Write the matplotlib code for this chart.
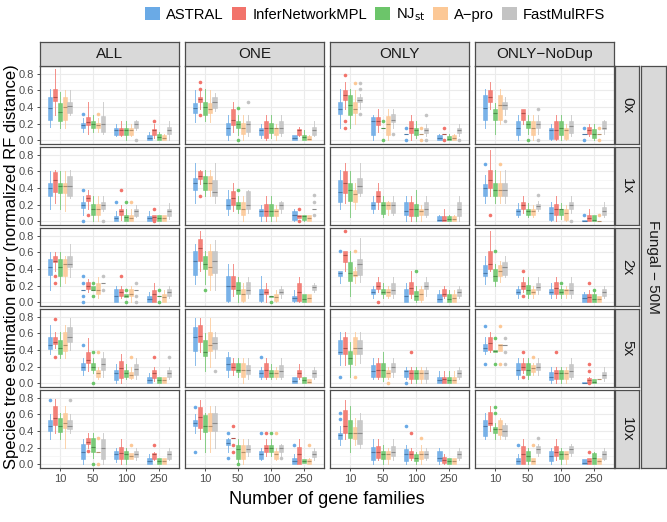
import numpy as np
import matplotlib
matplotlib.use("Agg")
import matplotlib.pyplot as plt
from matplotlib.patches import Patch
from matplotlib.colors import to_rgb

plt.rcParams["font.family"] = ["Liberation Sans", "DejaVu Sans"]

METHODS = ["ASTRAL", "InferNetworkMPL", "NJ$_{\\mathrm{st}}$", "A\u2212pro", "FastMulRFS"]
COLORS = ["#6AAAE6", "#F2736B", "#6CC56A", "#FCC896", "#C3C3C3"]
GENE_FAMILIES = ["10", "50", "100", "250"]
DATASETS = ["ALL", "ONE", "ONLY", "ONLY\u2212NoDup"]
COVERAGE = ["0x", "1x", "2x", "5x", "10x"]
SIMULATION = "Fungal \u2212 50M"

# box stats: [dataset][gene families][method] = (whisker lo, q1, median, q3, whisker hi)
BOX_0X = [
    [[(0.16, 0.24, 0.39, 0.52, 0.61), (0.30, 0.47, 0.52, 0.62, 0.86), (0.15, 0.23, 0.34, 0.45, 0.58), (0.15, 0.25, 0.40, 0.52, 0.60), (0.30, 0.33, 0.41, 0.46, 0.60)],
     [(0.10, 0.15, 0.19, 0.21, 0.27), (0.08, 0.18, 0.22, 0.28, 0.46), (0.10, 0.15, 0.20, 0.23, 0.30), (0.10, 0.15, 0.19, 0.21, 0.27), (0.08, 0.10, 0.20, 0.29, 0.46)],
     [(0.05, 0.07, 0.12, 0.15, 0.20), (0.05, 0.07, 0.12, 0.15, 0.23), (0.00, 0.07, 0.12, 0.15, 0.23), (0.05, 0.07, 0.12, 0.15, 0.20), (0.12, 0.15, 0.20, 0.23, 0.25)],
     [(0.00, 0.00, 0.03, 0.06, 0.10), (0.03, 0.07, 0.12, 0.14, 0.20), (0.00, 0.00, 0.04, 0.08, 0.10), (0.00, 0.00, 0.03, 0.06, 0.08), (0.00, 0.08, 0.12, 0.16, 0.23)]],
    [[(0.22, 0.33, 0.39, 0.45, 0.60), (0.38, 0.46, 0.49, 0.52, 0.60), (0.23, 0.30, 0.40, 0.46, 0.62), (0.22, 0.33, 0.38, 0.45, 0.60), (0.35, 0.39, 0.46, 0.52, 0.57)],
     [(0.00, 0.07, 0.15, 0.21, 0.30), (0.10, 0.18, 0.25, 0.37, 0.46), (0.07, 0.15, 0.20, 0.23, 0.30), (0.00, 0.08, 0.15, 0.21, 0.30), (0.05, 0.10, 0.20, 0.23, 0.30)],
     [(0.03, 0.07, 0.12, 0.15, 0.20), (0.00, 0.03, 0.15, 0.23, 0.30), (0.03, 0.09, 0.15, 0.21, 0.30), (0.00, 0.07, 0.15, 0.15, 0.20), (0.05, 0.09, 0.15, 0.23, 0.30)],
     [(0.00, 0.00, 0.03, 0.06, 0.07), (0.05, 0.07, 0.12, 0.14, 0.16), (0.00, 0.00, 0.04, 0.07, 0.12), (0.00, 0.00, 0.02, 0.05, 0.06), (0.05, 0.07, 0.12, 0.16, 0.23)]],
    [[(0.15, 0.32, 0.38, 0.46, 0.62), (0.38, 0.48, 0.54, 0.60, 0.70), (0.15, 0.30, 0.42, 0.54, 0.62), (0.20, 0.33, 0.38, 0.46, 0.60), (0.38, 0.46, 0.48, 0.52, 0.55)],
     [(0.00, 0.07, 0.23, 0.28, 0.30), (0.10, 0.18, 0.23, 0.28, 0.38), (0.15, 0.15, 0.15, 0.15, 0.15), (0.00, 0.07, 0.20, 0.29, 0.38), (0.15, 0.22, 0.25, 0.31, 0.38)],
     [(0.08, 0.08, 0.08, 0.08, 0.08), (0.00, 0.09, 0.15, 0.23, 0.30), (0.03, 0.07, 0.12, 0.15, 0.23), (0.08, 0.08, 0.08, 0.08, 0.08), (0.05, 0.09, 0.12, 0.15, 0.20)],
     [(0.00, 0.00, 0.03, 0.07, 0.08), (0.08, 0.08, 0.08, 0.08, 0.08), (0.00, 0.00, 0.02, 0.05, 0.08), (0.00, 0.00, 0.03, 0.07, 0.08), (0.05, 0.09, 0.12, 0.15, 0.20)]],
    [[(0.15, 0.25, 0.39, 0.54, 0.62), (0.38, 0.46, 0.52, 0.60, 0.70), (0.08, 0.25, 0.33, 0.38, 0.45), (0.20, 0.25, 0.42, 0.54, 0.62), (0.30, 0.38, 0.42, 0.46, 0.52)],
     [(0.00, 0.07, 0.15, 0.23, 0.30), (0.20, 0.25, 0.33, 0.38, 0.38), (0.08, 0.15, 0.20, 0.23, 0.30), (0.00, 0.07, 0.15, 0.23, 0.30), (0.08, 0.15, 0.20, 0.23, 0.30)],
     [(0.00, 0.02, 0.12, 0.15, 0.20), (0.00, 0.02, 0.12, 0.23, 0.30), (0.00, 0.07, 0.15, 0.23, 0.30), (0.00, 0.02, 0.12, 0.15, 0.20), (0.05, 0.09, 0.17, 0.23, 0.30)],
     [(0.08, 0.08, 0.08, 0.08, 0.08), (0.05, 0.08, 0.12, 0.16, 0.20), (0.00, 0.03, 0.08, 0.14, 0.20), (0.08, 0.08, 0.08, 0.08, 0.08), (0.08, 0.14, 0.15, 0.23, 0.25)]],
]
BOX_1X = [
    [[(0.15, 0.30, 0.40, 0.46, 0.60), (0.22, 0.35, 0.50, 0.59, 0.62), (0.15, 0.34, 0.42, 0.46, 0.60), (0.12, 0.34, 0.42, 0.46, 0.60), (0.28, 0.30, 0.42, 0.54, 0.62)],
     [(0.08, 0.16, 0.20, 0.23, 0.30), (0.15, 0.25, 0.28, 0.31, 0.38), (0.00, 0.08, 0.15, 0.21, 0.30), (0.00, 0.08, 0.15, 0.21, 0.30), (0.12, 0.15, 0.20, 0.23, 0.30)],
     [(0.00, 0.00, 0.04, 0.06, 0.12), (0.02, 0.08, 0.12, 0.15, 0.20), (0.00, 0.00, 0.05, 0.08, 0.15), (0.00, 0.00, 0.04, 0.08, 0.15), (0.05, 0.07, 0.12, 0.15, 0.20)],
     [(0.00, 0.00, 0.04, 0.06, 0.12), (0.02, 0.02, 0.05, 0.08, 0.08), (0.00, 0.00, 0.04, 0.08, 0.08), (0.00, 0.00, 0.04, 0.08, 0.08), (0.03, 0.07, 0.12, 0.15, 0.22)]],
    [[(0.22, 0.38, 0.46, 0.52, 0.70), (0.45, 0.51, 0.54, 0.60, 0.62), (0.30, 0.38, 0.46, 0.54, 0.62), (0.30, 0.38, 0.46, 0.54, 0.62), (0.22, 0.30, 0.35, 0.50, 0.70)],
     [(0.08, 0.15, 0.20, 0.27, 0.38), (0.12, 0.20, 0.28, 0.36, 0.46), (0.10, 0.15, 0.20, 0.23, 0.30), (0.00, 0.08, 0.15, 0.23, 0.30), (0.10, 0.15, 0.20, 0.36, 0.38)],
     [(0.00, 0.07, 0.12, 0.15, 0.20), (0.00, 0.07, 0.12, 0.21, 0.30), (0.00, 0.07, 0.12, 0.21, 0.30), (0.00, 0.07, 0.12, 0.15, 0.20), (0.10, 0.15, 0.20, 0.23, 0.25)],
     [(0.00, 0.02, 0.08, 0.13, 0.15), (0.04, 0.04, 0.06, 0.08, 0.08), (0.00, 0.02, 0.06, 0.08, 0.08), (0.00, 0.00, 0.04, 0.08, 0.08), (0.15, 0.15, 0.15, 0.15, 0.15)]],
    [[(0.15, 0.23, 0.35, 0.49, 0.62), (0.22, 0.34, 0.46, 0.60, 0.70), (0.05, 0.25, 0.38, 0.46, 0.60), (0.15, 0.23, 0.33, 0.38, 0.46), (0.30, 0.34, 0.42, 0.52, 0.70)],
     [(0.10, 0.15, 0.20, 0.23, 0.30), (0.15, 0.23, 0.30, 0.36, 0.46), (0.05, 0.09, 0.20, 0.23, 0.30), (0.08, 0.15, 0.20, 0.23, 0.25), (0.08, 0.10, 0.20, 0.23, 0.30)],
     [(0.00, 0.08, 0.12, 0.23, 0.30), (0.00, 0.06, 0.15, 0.23, 0.30), (0.00, 0.06, 0.15, 0.21, 0.38), (0.00, 0.08, 0.12, 0.15, 0.20), (0.05, 0.08, 0.15, 0.23, 0.30)],
     [(0.00, 0.00, 0.02, 0.07, 0.08), (0.00, 0.00, 0.02, 0.07, 0.15), (0.00, 0.00, 0.03, 0.07, 0.08), (0.00, 0.00, 0.03, 0.07, 0.08), (0.00, 0.07, 0.15, 0.23, 0.30)]],
    [[(0.22, 0.30, 0.40, 0.45, 0.55), (0.30, 0.40, 0.50, 0.61, 0.85), (0.22, 0.30, 0.38, 0.46, 0.62), (0.22, 0.30, 0.38, 0.46, 0.60), (0.22, 0.30, 0.38, 0.46, 0.62)],
     [(0.05, 0.08, 0.12, 0.15, 0.22), (0.10, 0.15, 0.20, 0.23, 0.30), (0.05, 0.08, 0.12, 0.15, 0.22), (0.05, 0.08, 0.12, 0.15, 0.20), (0.12, 0.15, 0.18, 0.21, 0.25)],
     [(0.00, 0.02, 0.10, 0.17, 0.23), (0.00, 0.08, 0.15, 0.21, 0.30), (0.03, 0.08, 0.15, 0.15, 0.22), (0.00, 0.02, 0.10, 0.15, 0.20), (0.10, 0.15, 0.20, 0.23, 0.30)],
     [(0.00, 0.00, 0.00, 0.02, 0.02), (0.00, 0.00, 0.04, 0.08, 0.15), (0.00, 0.00, 0.02, 0.08, 0.08), (0.00, 0.00, 0.00, 0.00, 0.00), (0.05, 0.08, 0.12, 0.17, 0.23)]],
]
BOX_2X = [
    [[(0.15, 0.33, 0.42, 0.52, 0.60), (0.38, 0.48, 0.50, 0.55, 0.60), (0.20, 0.31, 0.42, 0.52, 0.60), (0.23, 0.31, 0.46, 0.52, 0.55), (0.30, 0.42, 0.46, 0.55, 0.70)],
     [(0.15, 0.15, 0.15, 0.15, 0.15), (0.12, 0.16, 0.20, 0.25, 0.28), (0.15, 0.15, 0.15, 0.20, 0.20), (0.05, 0.10, 0.15, 0.23, 0.30), (0.23, 0.23, 0.23, 0.23, 0.23)],
     [(0.00, 0.00, 0.08, 0.16, 0.20), (0.05, 0.08, 0.12, 0.16, 0.20), (0.06, 0.06, 0.08, 0.10, 0.10), (0.00, 0.08, 0.10, 0.16, 0.20), (0.15, 0.15, 0.15, 0.15, 0.15)],
     [(0.00, 0.00, 0.04, 0.08, 0.12), (0.00, 0.00, 0.10, 0.15, 0.23), (0.08, 0.08, 0.08, 0.08, 0.08), (0.00, 0.00, 0.06, 0.10, 0.15), (0.05, 0.08, 0.12, 0.16, 0.20)]],
    [[(0.22, 0.33, 0.50, 0.62, 0.70), (0.38, 0.50, 0.65, 0.76, 0.85), (0.22, 0.40, 0.46, 0.55, 0.62), (0.15, 0.33, 0.42, 0.62, 0.70), (0.15, 0.35, 0.50, 0.62, 0.75)],
     [(0.00, 0.02, 0.20, 0.31, 0.46), (0.08, 0.16, 0.20, 0.31, 0.46), (0.00, 0.10, 0.15, 0.25, 0.30), (0.00, 0.02, 0.10, 0.16, 0.23), (0.05, 0.10, 0.15, 0.24, 0.30)],
     [(0.00, 0.02, 0.10, 0.16, 0.31), (0.00, 0.10, 0.12, 0.16, 0.23), (0.06, 0.06, 0.08, 0.08, 0.08), (0.00, 0.02, 0.06, 0.10, 0.15), (0.05, 0.10, 0.12, 0.16, 0.20)],
     [(0.00, 0.02, 0.05, 0.08, 0.15), (0.00, 0.02, 0.12, 0.23, 0.30), (0.00, 0.00, 0.04, 0.10, 0.10), (0.00, 0.00, 0.05, 0.10, 0.10), (0.12, 0.15, 0.18, 0.21, 0.23)]],
    [[(0.23, 0.31, 0.35, 0.38, 0.38), (0.38, 0.48, 0.57, 0.62, 0.62), (0.08, 0.26, 0.35, 0.48, 0.62), (0.23, 0.31, 0.33, 0.38, 0.42), (0.25, 0.33, 0.46, 0.52, 0.77)],
     [(0.05, 0.10, 0.12, 0.16, 0.20), (0.12, 0.16, 0.20, 0.25, 0.30), (0.05, 0.10, 0.12, 0.16, 0.23), (0.05, 0.08, 0.12, 0.16, 0.20), (0.05, 0.10, 0.15, 0.23, 0.30)],
     [(0.00, 0.00, 0.08, 0.16, 0.23), (0.05, 0.10, 0.17, 0.25, 0.38), (0.00, 0.03, 0.08, 0.14, 0.20), (0.00, 0.03, 0.10, 0.16, 0.20), (0.08, 0.16, 0.20, 0.25, 0.30)],
     [(0.00, 0.00, 0.04, 0.10, 0.15), (0.05, 0.08, 0.10, 0.16, 0.20), (0.00, 0.00, 0.04, 0.10, 0.15), (0.00, 0.00, 0.05, 0.10, 0.15), (0.05, 0.08, 0.12, 0.16, 0.20)]],
    [[(0.22, 0.31, 0.35, 0.45, 0.55), (0.38, 0.40, 0.46, 0.61, 0.85), (0.20, 0.26, 0.31, 0.40, 0.46), (0.25, 0.31, 0.38, 0.45, 0.50), (0.30, 0.33, 0.42, 0.48, 0.55)],
     [(0.05, 0.10, 0.12, 0.16, 0.20), (0.12, 0.16, 0.20, 0.25, 0.30), (0.05, 0.10, 0.15, 0.21, 0.30), (0.05, 0.10, 0.12, 0.16, 0.20), (0.10, 0.15, 0.18, 0.23, 0.30)],
     [(0.05, 0.10, 0.12, 0.16, 0.23), (0.05, 0.10, 0.17, 0.25, 0.30), (0.05, 0.10, 0.12, 0.16, 0.20), (0.05, 0.10, 0.15, 0.16, 0.20), (0.05, 0.10, 0.15, 0.23, 0.30)],
     [(0.00, 0.00, 0.05, 0.10, 0.12), (0.00, 0.00, 0.06, 0.10, 0.15), (0.00, 0.00, 0.04, 0.10, 0.12), (0.00, 0.00, 0.04, 0.08, 0.08), (0.05, 0.08, 0.12, 0.16, 0.20)]],
]
BOX_5X = [
    [[(0.35, 0.41, 0.46, 0.55, 0.70), (0.42, 0.47, 0.50, 0.55, 0.62), (0.30, 0.35, 0.42, 0.52, 0.62), (0.30, 0.39, 0.46, 0.61, 0.70), (0.40, 0.49, 0.55, 0.68, 0.78)],
     [(0.10, 0.16, 0.20, 0.24, 0.30), (0.15, 0.24, 0.28, 0.37, 0.54), (0.12, 0.16, 0.20, 0.24, 0.30), (0.05, 0.08, 0.12, 0.16, 0.20), (0.08, 0.16, 0.23, 0.30, 0.38)],
     [(0.00, 0.04, 0.12, 0.16, 0.23), (0.00, 0.06, 0.18, 0.27, 0.35), (0.05, 0.08, 0.12, 0.16, 0.23), (0.05, 0.07, 0.10, 0.14, 0.20), (0.05, 0.10, 0.17, 0.23, 0.30)],
     [(0.00, 0.00, 0.04, 0.08, 0.12), (0.03, 0.06, 0.12, 0.16, 0.20), (0.00, 0.00, 0.04, 0.08, 0.08), (0.00, 0.00, 0.04, 0.08, 0.08), (0.05, 0.08, 0.12, 0.16, 0.20)]],
    [[(0.22, 0.39, 0.55, 0.68, 0.78), (0.38, 0.49, 0.57, 0.70, 0.78), (0.15, 0.33, 0.38, 0.52, 0.60), (0.20, 0.39, 0.46, 0.62, 0.78), (0.30, 0.41, 0.48, 0.55, 0.62)],
     [(0.08, 0.16, 0.23, 0.31, 0.38), (0.10, 0.16, 0.20, 0.24, 0.30), (0.08, 0.14, 0.16, 0.24, 0.30), (0.00, 0.08, 0.16, 0.24, 0.30), (0.05, 0.11, 0.16, 0.22, 0.30)],
     [(0.05, 0.08, 0.12, 0.16, 0.20), (0.05, 0.08, 0.16, 0.24, 0.30), (0.05, 0.08, 0.12, 0.16, 0.23), (0.05, 0.08, 0.12, 0.16, 0.20), (0.05, 0.08, 0.15, 0.22, 0.30)],
     [(0.00, 0.00, 0.03, 0.08, 0.08), (0.05, 0.08, 0.12, 0.16, 0.23), (0.00, 0.00, 0.04, 0.08, 0.08), (0.00, 0.00, 0.02, 0.05, 0.05), (0.05, 0.08, 0.12, 0.16, 0.20)]],
    [[(0.22, 0.35, 0.38, 0.52, 0.62), (0.22, 0.35, 0.42, 0.55, 0.62), (0.08, 0.23, 0.30, 0.39, 0.50), (0.22, 0.35, 0.42, 0.55, 0.62), (0.25, 0.35, 0.42, 0.52, 0.62)],
     [(0.05, 0.08, 0.15, 0.22, 0.30), (0.05, 0.08, 0.16, 0.24, 0.30), (0.03, 0.08, 0.16, 0.24, 0.38), (0.05, 0.08, 0.12, 0.16, 0.20), (0.08, 0.14, 0.20, 0.24, 0.30)],
     [(0.05, 0.08, 0.15, 0.16, 0.20), (0.00, 0.05, 0.12, 0.16, 0.20), (0.00, 0.05, 0.12, 0.16, 0.20), (0.00, 0.05, 0.12, 0.16, 0.20), (0.00, 0.05, 0.12, 0.16, 0.20)],
     [(0.00, 0.00, 0.04, 0.08, 0.15), (0.00, 0.00, 0.05, 0.08, 0.15), (0.00, 0.00, 0.04, 0.08, 0.15), (0.00, 0.00, 0.04, 0.08, 0.15), (0.05, 0.08, 0.12, 0.16, 0.20)]],
    [[(0.35, 0.39, 0.42, 0.47, 0.55), (0.38, 0.40, 0.48, 0.55, 0.62), (0.38, 0.38, 0.39, 0.40, 0.40), (0.39, 0.39, 0.46, 0.47, 0.47), (0.46, 0.46, 0.46, 0.46, 0.46)],
     [(0.05, 0.10, 0.16, 0.25, 0.30), (0.12, 0.16, 0.20, 0.24, 0.30), (0.05, 0.10, 0.16, 0.24, 0.30), (0.10, 0.14, 0.18, 0.22, 0.25), (0.10, 0.16, 0.20, 0.24, 0.30)],
     [(0.00, 0.04, 0.08, 0.14, 0.20), (0.00, 0.05, 0.12, 0.16, 0.20), (0.00, 0.05, 0.12, 0.16, 0.20), (0.00, 0.05, 0.12, 0.16, 0.20), (0.05, 0.08, 0.15, 0.23, 0.30)],
     [(0.00, 0.00, 0.00, 0.02, 0.02), (0.00, 0.00, 0.04, 0.07, 0.08), (0.00, 0.00, 0.02, 0.05, 0.05), (0.05, 0.05, 0.05, 0.05, 0.05), (0.03, 0.06, 0.10, 0.14, 0.20)]],
]
BOX_10X = [
    [[(0.30, 0.40, 0.46, 0.53, 0.60), (0.38, 0.47, 0.55, 0.70, 0.78), (0.30, 0.39, 0.46, 0.55, 0.62), (0.20, 0.43, 0.50, 0.61, 0.70), (0.38, 0.42, 0.46, 0.53, 0.60)],
     [(0.00, 0.07, 0.15, 0.24, 0.30), (0.20, 0.24, 0.27, 0.31, 0.38), (0.08, 0.15, 0.21, 0.31, 0.38), (0.15, 0.15, 0.15, 0.15, 0.15), (0.00, 0.07, 0.20, 0.30, 0.38)],
     [(0.03, 0.07, 0.12, 0.16, 0.20), (0.00, 0.07, 0.14, 0.21, 0.30), (0.00, 0.07, 0.12, 0.16, 0.20), (0.07, 0.07, 0.10, 0.14, 0.14), (0.05, 0.09, 0.12, 0.16, 0.20)],
     [(0.00, 0.00, 0.04, 0.08, 0.12), (0.05, 0.07, 0.12, 0.14, 0.15), (0.00, 0.00, 0.04, 0.08, 0.08), (0.00, 0.00, 0.04, 0.08, 0.08), (0.05, 0.07, 0.12, 0.16, 0.20)]],
    [[(0.38, 0.46, 0.50, 0.53, 0.60), (0.30, 0.43, 0.57, 0.69, 0.77), (0.15, 0.39, 0.46, 0.59, 0.62), (0.15, 0.40, 0.46, 0.61, 0.70), (0.20, 0.40, 0.50, 0.61, 0.70)],
     [(0.15, 0.23, 0.26, 0.30, 0.31), (0.31, 0.31, 0.31, 0.31, 0.31), (0.00, 0.07, 0.18, 0.23, 0.30), (0.00, 0.07, 0.15, 0.23, 0.30), (0.10, 0.15, 0.18, 0.23, 0.30)],
     [(0.05, 0.07, 0.12, 0.16, 0.20), (0.10, 0.15, 0.20, 0.23, 0.30), (0.10, 0.15, 0.20, 0.23, 0.30), (0.05, 0.07, 0.12, 0.16, 0.20), (0.10, 0.15, 0.20, 0.23, 0.25)],
     [(0.00, 0.00, 0.04, 0.08, 0.12), (0.00, 0.00, 0.12, 0.21, 0.30), (0.02, 0.02, 0.04, 0.07, 0.07), (0.00, 0.00, 0.04, 0.07, 0.08), (0.05, 0.09, 0.12, 0.16, 0.20)]],
    [[(0.23, 0.30, 0.35, 0.37, 0.46), (0.30, 0.37, 0.46, 0.65, 0.77), (0.15, 0.32, 0.38, 0.53, 0.70), (0.23, 0.30, 0.38, 0.45, 0.55), (0.20, 0.25, 0.38, 0.53, 0.62)],
     [(0.00, 0.05, 0.15, 0.21, 0.30), (0.05, 0.08, 0.15, 0.22, 0.30), (0.00, 0.06, 0.12, 0.16, 0.23), (0.00, 0.06, 0.12, 0.16, 0.20), (0.05, 0.10, 0.15, 0.22, 0.30)],
     [(0.00, 0.04, 0.12, 0.19, 0.23), (0.05, 0.08, 0.12, 0.16, 0.20), (0.00, 0.04, 0.08, 0.13, 0.15), (0.00, 0.06, 0.12, 0.16, 0.23), (0.05, 0.08, 0.12, 0.16, 0.20)],
     [(0.00, 0.04, 0.08, 0.16, 0.20), (0.00, 0.02, 0.05, 0.09, 0.12), (0.00, 0.00, 0.04, 0.08, 0.08), (0.00, 0.00, 0.04, 0.08, 0.08), (0.05, 0.08, 0.12, 0.16, 0.20)]],
    [[(0.30, 0.34, 0.46, 0.53, 0.62), (0.40, 0.47, 0.50, 0.63, 0.70), (0.30, 0.38, 0.42, 0.45, 0.50), (0.30, 0.35, 0.42, 0.53, 0.55), (0.30, 0.34, 0.40, 0.47, 0.50)],
     [(0.00, 0.00, 0.04, 0.08, 0.12), (0.00, 0.00, 0.12, 0.22, 0.30), (0.00, 0.04, 0.10, 0.16, 0.20), (0.00, 0.00, 0.04, 0.08, 0.08), (0.10, 0.14, 0.18, 0.22, 0.25)],
     [(0.00, 0.04, 0.10, 0.16, 0.20), (0.05, 0.10, 0.15, 0.22, 0.30), (0.00, 0.06, 0.12, 0.16, 0.20), (0.00, 0.06, 0.12, 0.16, 0.16), (0.10, 0.14, 0.18, 0.22, 0.25)],
     [(0.00, 0.00, 0.02, 0.06, 0.06), (0.00, 0.00, 0.04, 0.08, 0.08), (0.00, 0.00, 0.08, 0.14, 0.15), (0.00, 0.00, 0.04, 0.08, 0.08), (0.05, 0.06, 0.12, 0.16, 0.20)]],
]

# outliers: (dataset, gene families, method, value)
OUT_0X = [(0, 1, 0, 0.31), (0, 1, 3, 0.31), (0, 2, 4, 0.0), (0, 3, 1, 0.23),
          (1, 0, 1, 0.70), (1, 0, 1, 0.62), (1, 0, 1, 0.30), (1, 1, 2, 0.39), (1, 1, 2, 0.0), (1, 1, 4, 0.46),
          (2, 0, 1, 0.78), (2, 0, 1, 0.23), (2, 0, 1, 0.15), (2, 0, 3, 0.69), (2, 0, 4, 0.69), (2, 0, 4, 0.62),
          (2, 0, 4, 0.31), (2, 1, 2, 0.23), (2, 1, 2, 0.0), (2, 1, 4, 0.08), (2, 2, 0, 0.15), (2, 2, 0, 0.0),
          (2, 2, 3, 0.15), (2, 2, 3, 0.0), (2, 2, 4, 0.30), (2, 2, 4, 0.0), (2, 3, 1, 0.15), (2, 3, 1, 0.0),
          (2, 3, 4, 0.0),
          (3, 0, 4, 0.23), (3, 1, 2, 0.0), (3, 1, 4, 0.38), (3, 1, 4, 0.0), (3, 3, 0, 0.15), (3, 3, 0, 0.0),
          (3, 3, 3, 0.15), (3, 3, 3, 0.0)]
OUT_1X = [(0, 1, 0, 0.38), (0, 1, 0, 0.0), (0, 1, 1, 0.08), (0, 1, 4, 0.0), (0, 2, 0, 0.23), (0, 2, 1, 0.38),
          (0, 2, 2, 0.23), (0, 2, 3, 0.23), (0, 3, 1, 0.15), (0, 3, 1, 0.0),
          (1, 0, 1, 0.30), (1, 1, 2, 0.38), (1, 3, 1, 0.15), (1, 3, 1, 0.0), (1, 3, 4, 0.31), (1, 3, 4, 0.23),
          (1, 3, 4, 0.08),
          (3, 0, 0, 0.69), (3, 0, 1, 0.08), (3, 0, 3, 0.69), (3, 1, 4, 0.31), (3, 2, 4, 0.0), (3, 3, 0, 0.08),
          (3, 3, 3, 0.08)]
OUT_2X = [(0, 0, 1, 0.31), (0, 0, 1, 0.23), (0, 1, 0, 0.31), (0, 1, 0, 0.23), (0, 1, 0, 0.08), (0, 1, 0, 0.0),
          (0, 1, 2, 0.23), (0, 1, 2, 0.08), (0, 1, 4, 0.31), (0, 1, 4, 0.15), (0, 2, 1, 0.31), (0, 2, 2, 0.15),
          (0, 2, 2, 0.0), (0, 2, 4, 0.23), (0, 2, 4, 0.08), (0, 2, 4, 0.0), (0, 3, 2, 0.15), (0, 3, 2, 0.0),
          (1, 0, 2, 0.15), (1, 2, 2, 0.0),
          (2, 0, 0, 0.62), (2, 0, 1, 0.85), (2, 0, 3, 0.62), (2, 1, 1, 0.0), (2, 2, 2, 0.38),
          (3, 0, 2, 0.62), (3, 1, 1, 0.38), (3, 1, 1, 0.08), (3, 2, 2, 0.23), (3, 3, 1, 0.23), (3, 3, 2, 0.15)]
OUT_5X = [(0, 0, 1, 0.77), (0, 0, 1, 0.31), (0, 1, 0, 0.46), (0, 1, 2, 0.38), (0, 1, 2, 0.0), (0, 1, 3, 0.38),
          (0, 2, 3, 0.31), (0, 3, 1, 0.31), (0, 3, 4, 0.31),
          (1, 0, 4, 0.15), (1, 2, 0, 0.31),
          (2, 0, 0, 0.08), (2, 0, 3, 0.08), (2, 1, 3, 0.0), (2, 2, 0, 0.0), (2, 2, 1, 0.38),
          (3, 0, 0, 0.69), (3, 0, 0, 0.23), (3, 0, 2, 0.54), (3, 0, 2, 0.23), (3, 0, 3, 0.69), (3, 0, 3, 0.23),
          (3, 0, 4, 0.54), (3, 0, 4, 0.38), (3, 0, 4, 0.23), (3, 1, 1, 0.38), (3, 1, 1, 0.08), (3, 1, 3, 0.31),
          (3, 2, 1, 0.38), (3, 3, 1, 0.23), (3, 3, 1, 0.15), (3, 3, 1, 0.0)]
OUT_10X = [(0, 0, 0, 0.77), (0, 0, 4, 0.77), (0, 1, 1, 0.16), (0, 1, 2, 0.0), (0, 1, 3, 0.31), (0, 1, 3, 0.0),
           (0, 2, 3, 0.23), (0, 3, 1, 0.23),
           (1, 0, 0, 0.69), (1, 0, 0, 0.15), (1, 1, 0, 0.38), (1, 1, 0, 0.08), (1, 1, 1, 0.46), (1, 1, 1, 0.23),
           (1, 1, 1, 0.15), (1, 1, 2, 0.0), (1, 2, 0, 0.38), (1, 2, 1, 0.38), (1, 2, 2, 0.38), (1, 2, 3, 0.38),
           (1, 2, 4, 0.08), (1, 3, 0, 0.23), (1, 3, 3, 0.23),
           (2, 0, 0, 0.62), (2, 0, 0, 0.54), (2, 2, 0, 0.46), (2, 2, 1, 0.38), (2, 2, 3, 0.31),
           (3, 0, 2, 0.69), (3, 0, 2, 0.62), (3, 1, 0, 0.23), (3, 1, 3, 0.23), (3, 1, 4, 0.31), (3, 3, 1, 0.15)]

BOXES = [BOX_0X, BOX_1X, BOX_2X, BOX_5X, BOX_10X]
OUTLIERS = [OUT_0X, OUT_1X, OUT_2X, OUT_5X, OUT_10X]

W, H = 667, 522
fig = plt.figure(figsize=(W / 100, H / 100), dpi=100)


def rect(left, top, w, h):
    return [left / W, 1 - (top + h) / H, w / W, h / H]


def shade(c, f=0.72):
    r, g, b = to_rgb(c)
    return (r * f, g * f, b * f)


def strip(left, top, w, h, label, rotation=0):
    sax = fig.add_axes(rect(left, top, w, h))
    sax.set_facecolor("#d9d9d9")
    sax.set_xticks([])
    sax.set_yticks([])
    for s in sax.spines.values():
        s.set_color("#4d4d4d")
        s.set_linewidth(0.9)
    sax.text(0.5, 0.5, label, ha="center", va="center", rotation=rotation, fontsize=11,
             color="#1a1a1a", transform=sax.transAxes)


col_left = [40, 185, 330, 475]
panel_w = 139
row_top = [66, 147, 228, 309, 390]
panel_h = 78
strip_h = 24

offsets = np.array([-0.3, -0.15, 0.0, 0.15, 0.3])
x = np.arange(len(GENE_FAMILIES))

for r, cov in enumerate(COVERAGE):
    for c, ds in enumerate(DATASETS):
        ax = fig.add_axes(rect(col_left[c], row_top[r], panel_w, panel_h))
        ax.set_xlim(-0.6, 3.6)
        ax.set_ylim(-0.043, 0.89)
        ax.set_yticks([0.0, 0.2, 0.4, 0.6, 0.8])
        ax.set_yticks([0.1, 0.3, 0.5, 0.7], minor=True)
        ax.set_xticks(x)
        ax.grid(True, which="major", color="#ebebeb", lw=0.8)
        ax.grid(True, which="minor", axis="y", color="#f3f3f3", lw=0.5)
        ax.set_axisbelow(True)
        for s in ax.spines.values():
            s.set_color("#4d4d4d")
            s.set_linewidth(0.9)
        ax.tick_params(which="minor", length=0)
        ax.tick_params(which="major", length=2.5, width=0.6, color="#333333",
                       labelsize=8, labelcolor="#4d4d4d", pad=2)
        if c == 0:
            ax.set_yticklabels(["0.0", "0.2", "0.4", "0.6", "0.8"])
        else:
            ax.tick_params(axis="y", labelleft=False, length=0)
        if r == len(COVERAGE) - 1:
            ax.set_xticklabels(GENE_FAMILIES)
        else:
            ax.tick_params(axis="x", labelbottom=False, length=0)

        for m, color in enumerate(COLORS):
            stats = []
            for g in range(len(GENE_FAMILIES)):
                lo, q1, med, q3, hi = BOXES[r][c][g][m]
                fl = [v for (dc, gc, mc, v) in OUTLIERS[r] if dc == c and gc == g and mc == m]
                stats.append(dict(whislo=lo, q1=q1, med=med, q3=q3, whishi=hi, fliers=fl))
            ax.bxp(stats, positions=x + offsets[m], widths=0.14, patch_artist=True,
                   showcaps=False, manage_ticks=False,
                   boxprops=dict(facecolor=color, edgecolor=color, lw=0.4, alpha=0.9),
                   whiskerprops=dict(color=color, lw=0.7, alpha=0.8),
                   medianprops=dict(color=shade(color), lw=0.8),
                   flierprops=dict(marker="o", markersize=2.6, markerfacecolor=color,
                                   markeredgecolor="none"))

        if r == 0:
            strip(col_left[c], row_top[0] - strip_h, panel_w, strip_h, ds)
        if c == len(DATASETS) - 1:
            strip(col_left[c] + panel_w + 1, row_top[r], strip_h, panel_h, cov, rotation=-90)

outer_left = col_left[-1] + panel_w + 1 + strip_h + 2
strip(outer_left, row_top[0], W - outer_left - 1, row_top[-1] + panel_h - row_top[0],
      SIMULATION, rotation=-90)

handles = [Patch(facecolor=col, edgecolor="none") for col in COLORS]
fig.legend(handles, METHODS, loc="center", bbox_to_anchor=(375 / W, 1 - 15 / H), ncol=5,
           frameon=False, fontsize=10.6, handlelength=1.0, handleheight=0.9,
           handletextpad=0.4, columnspacing=0.55)

fig.text((col_left[0] + col_left[-1] + panel_w) / 2 / W, 1 - 499 / H, "Number of gene families",
         ha="center", va="center", fontsize=13)
fig.text(12 / W, 1 - (row_top[0] + row_top[-1] + panel_h) / 2 / H,
         "Species tree estimation error (normalized RF distance)",
         ha="center", va="center", rotation=90, fontsize=12)

fig.savefig("out.png", dpi=100)
